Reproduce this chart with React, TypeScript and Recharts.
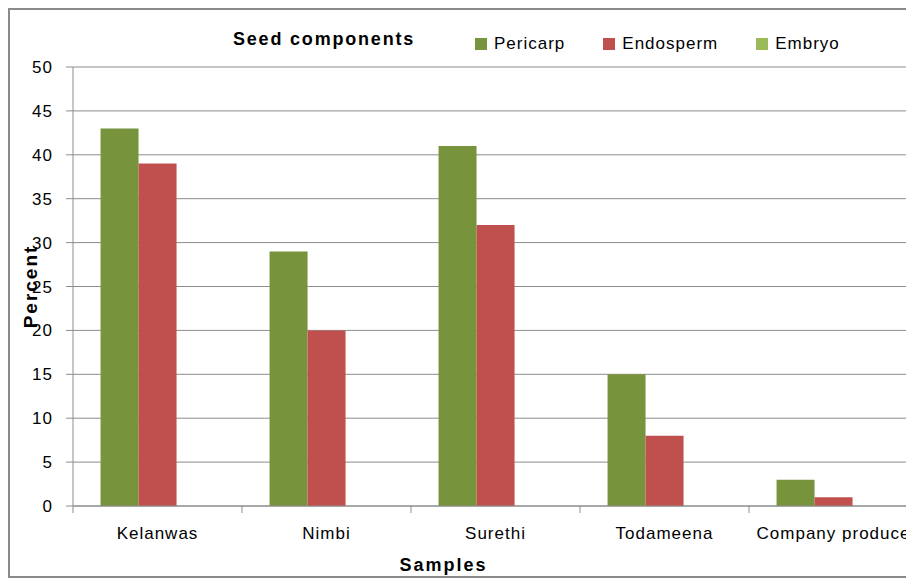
import React from 'react';
import { BarChart, Bar, XAxis, YAxis, CartesianGrid, Legend, Label } from 'recharts';

const samples = ['Kelanwas', 'Nimbi', 'Surethi', 'Todameena', 'Company produce'];
const pericarp = [43, 29, 41, 15, 3];
const endosperm = [39, 20, 32, 8, 1];
const embryo = [0, 0, 0, 0, 0];
const yTicks = [0, 5, 10, 15, 20, 25, 30, 35, 40, 45, 50];
const seriesOrder = ['Pericarp', 'Endosperm', 'Embryo'];

const data = samples.map((name, i) => ({
  name,
  pericarp: pericarp[i],
  endosperm: endosperm[i],
  embryo: embryo[i],
}));

const W = 908;
const H = 566;
const Y_W = 63;
const halfBand = (W - Y_W) / samples.length / 2;
const font = '"Liberation Sans", Arial, sans-serif';
const axisColor = '#8c8c8c';

function SampleTick(props: any) {
  const { x, y, payload } = props;
  return (
    <g>
      <line x1={x - halfBand} x2={x - halfBand} y1={y - 21} y2={y - 14} stroke={axisColor} />
      <text
        x={x}
        y={y}
        dy="0.71em"
        textAnchor="middle"
        fill="#000"
        style={{ fontFamily: font, fontSize: 17, letterSpacing: 1 }}
      >
        {payload.value}
      </text>
    </g>
  );
}

function LegendBox(props: any) {
  const items = [...(props.payload || [])].sort(
    (a: any, b: any) => seriesOrder.indexOf(a.value) - seriesOrder.indexOf(b.value)
  );
  return (
    <div style={{ display: 'flex', alignItems: 'center', fontFamily: font, fontSize: 17, letterSpacing: 1 }}>
      {items.map((entry: any) => (
        <div key={entry.value} style={{ display: 'flex', alignItems: 'center', marginRight: 38 }}>
          <span style={{ width: 12, height: 12, background: entry.color, display: 'inline-block', marginRight: 7 }} />
          <span style={{ color: '#000' }}>{entry.value}</span>
        </div>
      ))}
    </div>
  );
}

export default function App() {
  return (
    <div
      style={{
        position: 'relative',
        width: 904,
        height: H,
        borderLeft: '2px solid #8a8a8a',
        borderTop: '2px solid #8a8a8a',
        borderBottom: '2px solid #8a8a8a',
        overflow: 'hidden',
        background: '#fff',
      }}
    >
      <div
        style={{
          position: 'absolute',
          left: 223,
          top: 20,
          fontFamily: font,
          fontWeight: 'bold',
          fontSize: 18,
          lineHeight: '18px',
          letterSpacing: 1.8,
          color: '#000',
          whiteSpace: 'nowrap',
          zIndex: 2,
        }}
      >
        Seed components
      </div>
      <BarChart
        width={W}
        height={H}
        data={data}
        margin={{ top: 57, right: 0, bottom: 0, left: 0 }}
        barCategoryGap="16.3%"
        barGap={0}
      >
        <CartesianGrid vertical={false} stroke={axisColor} />
        <XAxis
          dataKey="name"
          height={70}
          stroke={axisColor}
          tickLine={false}
          tickSize={0}
          tickMargin={21}
          tick={<SampleTick />}
          interval={0}
        >
          <Label
            content={(p: any) => {
              const vb = p.viewBox;
              return (
                <text
                  x={vb.x + vb.width / 2 - 52}
                  y={vb.y + vb.height - 5}
                  textAnchor="middle"
                  fill="#000"
                  style={{ fontFamily: font, fontWeight: 'bold', fontSize: 18, letterSpacing: 2 }}
                >
                  Samples
                </text>
              );
            }}
          />
        </XAxis>
        <YAxis
          width={Y_W}
          domain={[0, 50]}
          ticks={yTicks}
          interval={0}
          stroke={axisColor}
          tickSize={7}
          tickMargin={13}
          tick={{ fill: '#000', fontFamily: font, fontSize: 17, letterSpacing: 1 }}
        >
          <Label
            value="Percent"
            angle={-90}
            position="insideLeft"
            offset={20}
            fill="#000"
            style={{ textAnchor: 'middle', fontFamily: font, fontWeight: 'bold', fontSize: 19, letterSpacing: 2 }}
          />
        </YAxis>
        <Legend
          layout="horizontal"
          verticalAlign="middle"
          align="center"
          itemSorter={null as any}
          content={<LegendBox />}
          wrapperStyle={{ top: 24, left: 465, width: 'auto' }}
        />
        <Bar dataKey="pericarp" name="Pericarp" fill="#77933C" isAnimationActive={false} />
        <Bar dataKey="endosperm" name="Endosperm" fill="#C0504D" isAnimationActive={false} />
        <Bar dataKey="embryo" name="Embryo" fill="#9BBB59" isAnimationActive={false} />
      </BarChart>
    </div>
  );
}
